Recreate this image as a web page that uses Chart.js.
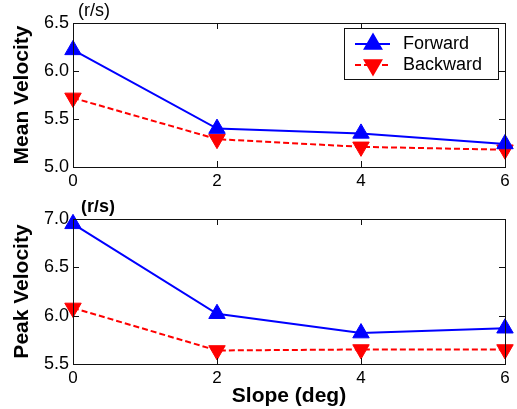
<!DOCTYPE html>
<html>
<head>
<meta charset="utf-8">
<script src="https://cdn.jsdelivr.net/npm/chart.js@4"></script>
<style>
  html, body { margin: 0; padding: 0; background: #fff; }
  #wrap { position: relative; width: 517px; height: 409px; }
  #c1 { position: absolute; left: 0; top: 0; }
  #c2 { position: absolute; left: 0; top: 200px; }
</style>
</head>
<body>
<div id="wrap">
  <canvas id="c1" width="517" height="200"></canvas>
  <canvas id="c2" width="517" height="209"></canvas>
</div>
<script>
// data
var slopes = [0, 2, 4, 6];
var meanForward = [6.22, 5.40, 5.35, 5.24];
var meanBackward = [5.72, 5.29, 5.21, 5.18];
var peakForward = [6.95, 6.02, 5.82, 5.87];
var peakBackward = [6.08, 5.64, 5.65, 5.65];
var xTicks = [0, 2, 4, 6];
var meanTicks = [5.0, 5.5, 6.0, 6.5];
var peakTicks = [5.5, 6.0, 6.5, 7.0];

var FONT = "'Liberation Sans', Arial, sans-serif";

function pts(ys) {
  return slopes.map(function(x, i) { return { x: x, y: ys[i] }; });
}

function makeDatasets(fwd, bwd) {
  return [{
    label: 'Forward',
    data: pts(fwd),
    borderColor: '#0000ff',
    backgroundColor: '#0000ff',
    borderWidth: 2,
    pointStyle: 'triangle',
    pointRadius: 9.5,
    pointBorderWidth: 1,
    pointRotation: 0,
    clip: false
  }, {
    label: 'Backward',
    data: pts(bwd),
    borderColor: '#ff0000',
    backgroundColor: '#ff0000',
    borderWidth: 2,
    borderDash: [6, 3],
    pointStyle: 'triangle',
    pointRadius: 9.5,
    pointBorderWidth: 1,
    pointRotation: 180,
    clip: false
  }];
}

// box round the plot with inside ticks, like the original
var frame = {
  id: 'frame',
  afterDraw: function(chart) {
    var ctx = chart.ctx, a = chart.chartArea;
    var xs = chart.scales.x, ys = chart.scales.y;
    ctx.save();
    ctx.strokeStyle = '#111';
    ctx.lineWidth = 1;
    ctx.strokeRect(Math.round(a.left) + 0.5, Math.round(a.top) + 0.5,
      Math.round(a.right - a.left), Math.round(a.bottom - a.top));
    ctx.beginPath();
    xs.ticks.forEach(function(t) {
      var px = Math.round(xs.getPixelForValue(t.value)) + 0.5;
      ctx.moveTo(px, a.top); ctx.lineTo(px, a.top + 6);
      ctx.moveTo(px, a.bottom); ctx.lineTo(px, a.bottom - 6);
    });
    ys.ticks.forEach(function(t) {
      var py = Math.round(ys.getPixelForValue(t.value)) + 0.5;
      ctx.moveTo(a.left, py); ctx.lineTo(a.left + 6, py);
      ctx.moveTo(a.right, py); ctx.lineTo(a.right - 6, py);
    });
    ctx.stroke();
    ctx.restore();
  }
};

// unit label above the y axis
var unit = {
  id: 'unit',
  afterDraw: function(chart, args, opts) {
    var ctx = chart.ctx, a = chart.chartArea;
    ctx.save();
    ctx.fillStyle = '#000';
    ctx.font = (opts.bold ? 'bold ' : '') + '18px ' + FONT;
    ctx.textBaseline = 'middle';
    ctx.textAlign = 'left';
    ctx.fillText('(r/s)', a.left + opts.dx, a.top - 12);
    ctx.restore();
  }
};

// boxed legend inside the top plot
var boxLegend = {
  id: 'boxLegend',
  afterDraw: function(chart, args, opts) {
    if (!opts.show) return;
    var ctx = chart.ctx, a = chart.chartArea;
    var x0 = a.right - 161, y0 = a.top + 5, w = 154, h = 51;
    ctx.save();
    ctx.fillStyle = '#fff';
    ctx.fillRect(x0, y0, w, h);
    ctx.strokeStyle = '#111';
    ctx.lineWidth = 1;
    ctx.strokeRect(Math.round(x0) + 0.5, Math.round(y0) + 0.5, w, h);
    chart.data.datasets.forEach(function(ds, i) {
      var cy = y0 + 16 + i * 21;
      ctx.save();
      ctx.strokeStyle = ds.borderColor;
      ctx.lineWidth = ds.borderWidth;
      ctx.setLineDash(ds.borderDash || []);
      ctx.beginPath();
      ctx.moveTo(x0 + 11, cy);
      ctx.lineTo(x0 + 46, cy);
      ctx.stroke();
      ctx.setLineDash([]);
      ctx.fillStyle = ds.backgroundColor;
      Chart.helpers.drawPoint(ctx, {
        pointStyle: ds.pointStyle, radius: ds.pointRadius,
        rotation: ds.pointRotation, borderWidth: ds.pointBorderWidth
      }, x0 + 29, cy);
      ctx.restore();
      ctx.fillStyle = '#000';
      ctx.font = '18px ' + FONT;
      ctx.textBaseline = 'middle';
      ctx.fillText(ds.label, x0 + 59, cy);
    });
    ctx.restore();
  }
};

function makeChart(id, fwd, bwd, yMin, yMax, yTickVals, yTitle, opts) {
  return new Chart(document.getElementById(id), {
    type: 'line',
    data: { datasets: makeDatasets(fwd, bwd) },
    plugins: [frame, unit, boxLegend],
    options: {
      responsive: false,
      animation: false,
      layout: { padding: { top: opts.top, right: 12, left: 0, bottom: 0 } },
      plugins: {
        legend: { display: false },
        tooltip: { enabled: false },
        unit: { bold: opts.boldUnit, dx: opts.unitDx },
        boxLegend: { show: opts.legend }
      },
      scales: {
        x: {
          type: 'linear',
          min: 0, max: 6,
          afterBuildTicks: function(s) { s.ticks = xTicks.map(function(v) { return { value: v }; }); },
          afterFit: function(s) { s.height = opts.xh; },
          grid: { display: false, drawTicks: false },
          border: { display: false },
          ticks: { color: '#000', padding: 4, font: { family: FONT, size: 17 } },
          title: {
            display: !!opts.xTitle, text: opts.xTitle || '', color: '#000',
            padding: { top: 0, bottom: 0 },
            font: { family: FONT, size: 21, weight: 'bold' }
          }
        },
        y: {
          min: yMin, max: yMax,
          afterBuildTicks: function(s) { s.ticks = yTickVals.map(function(v) { return { value: v }; }); },
          afterFit: function(s) { s.width = 73; },
          grid: { display: false, drawTicks: false },
          border: { display: false },
          ticks: {
            color: '#000', padding: 4, font: { family: FONT, size: 18 },
            callback: function(v) { return Number(v).toFixed(1); }
          },
          title: {
            display: true, text: yTitle, color: '#000',
            padding: { top: 10, bottom: 0 },
            font: { family: FONT, size: 21, weight: 'bold' }
          }
        }
      }
    }
  });
}

makeChart('c1', meanForward, meanBackward, 5.0, 6.5, meanTicks, 'Mean Velocity',
  { top: 23, xh: 33, legend: true, boldUnit: false, unitDx: 5 });
makeChart('c2', peakForward, peakBackward, 5.5, 7.0, peakTicks, 'Peak Velocity',
  { top: 19, xh: 45, legend: false, boldUnit: true, unitDx: 8, xTitle: 'Slope (deg)' });
</script>
</body>
</html>
